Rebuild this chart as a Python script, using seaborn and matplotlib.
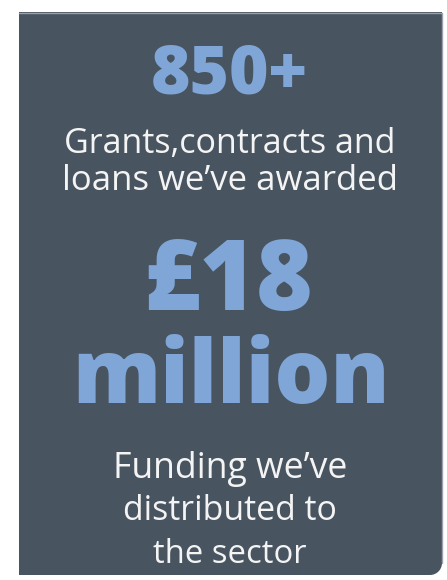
import numpy as np
import matplotlib
matplotlib.use('Agg')
import matplotlib.pyplot as plt
import matplotlib.patches as mpatches
from matplotlib.path import Path
import seaborn as sns

# figures shown on the panel
headline_1 = '850+'
caption_1 = ['Grants,contracts and', 'loans we\u2019ve awarded']
headline_2 = ['\u00a318', 'million']
caption_2 = ['Funding we\u2019ve', 'distributed to', 'the sector']

BG = '#48545f'
BLUE = '#7fa6d7'
WHITE = '#f4f4f4'

sns.set_theme(style='white')
plt.rcParams['font.family'] = ['Open Sans', 'DejaVu Sans']

fig = plt.figure(figsize=(4.47, 5.80), dpi=100)
ax = fig.add_axes([0, 0, 1, 1])
ax.set_xlim(0, 447)
ax.set_ylim(580, 0)
ax.axis('off')

# panel with rounded bottom-right corner
x0, y0, x1, y1, r = 19, 12, 442, 575, 12
t = np.linspace(0, np.pi / 2, 12)
pts = [(x0, y0), (x1, y0), (x1, y1 - r)]
pts += [(x1 - r + r * np.cos(a), y1 - r + r * np.sin(a)) for a in t]
pts += [(x0, y1), (x0, y0)]
codes = [Path.MOVETO] + [Path.LINETO] * (len(pts) - 2) + [Path.CLOSEPOLY]
ax.add_patch(mpatches.PathPatch(Path(pts, codes), facecolor=BG, edgecolor='none'))
ax.plot([x0, x1, x1], [y0 + 0.5, y0 + 0.5, y1 - r], color='#9aa3ab', lw=1)

renderer = fig.canvas.get_renderer()


def put(s, y, width, color, weight, cx=230):
    # place text on its baseline, sized so it spans the given pixel width
    txt = ax.text(cx, y, s, color=color, fontsize=30, fontweight=weight,
                  ha='center', va='baseline')
    w = txt.get_window_extent(renderer).width
    txt.set_fontsize(30 * width / w)
    return txt


put(headline_1, 93, 157, BLUE, 'heavy', cx=229)
for s, y, w in zip(caption_1, [153, 190], [332, 336]):
    put(s, y, w, WHITE, 'normal')
put(headline_2[0], 310, 170, BLUE, 'heavy', cx=228)
put(headline_2[1], 403, 318, BLUE, 'heavy', cx=231)
for s, y, w in zip(caption_2, [478, 520, 563], [235, 215, 153]):
    put(s, y, w, WHITE, 'normal')

fig.savefig('out.png', dpi=100, facecolor='white')
